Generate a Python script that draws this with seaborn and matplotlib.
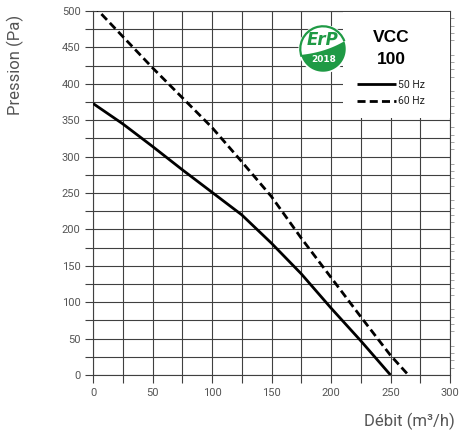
import numpy as np
import pandas as pd
import matplotlib
matplotlib.use("Agg")
import matplotlib.pyplot as plt
import seaborn as sns
from matplotlib.patches import Circle, Polygon, Arc, Rectangle

# ---- data ----
flow_50 = [0, 25, 50, 75, 100, 125, 150, 175, 200, 225, 250]
pres_50 = [373, 345, 314, 282, 251, 220, 181, 139, 92, 47, 0]
flow_60 = [0, 25, 50, 75, 100, 125, 150, 175, 200, 225, 250, 265]
pres_60 = [508, 465, 422, 381, 340, 293, 245, 188, 134, 80, 27, 0]
series_labels = ["50 Hz", "60 Hz"]
x_ticks = [0, 50, 100, 150, 200, 250, 300]
y_ticks = [0, 50, 100, 150, 200, 250, 300, 350, 400, 450, 500]
title_lines = ["VCC", "100"]

df50 = pd.DataFrame({"flow": flow_50, "pres": pres_50})
df60 = pd.DataFrame({"flow": flow_60, "pres": pres_60})

sns.set_theme(style="white")
plt.rcParams["font.family"] = ["Roboto", "DejaVu Sans"]

W, H = 461, 434
fig = plt.figure(figsize=(W / 100, H / 100), dpi=100)
ax = fig.add_axes([93 / W, 1 - 375 / H, 357 / W, 364 / H])

grid_c = "#404040"
tick_c = "#555555"

sns.lineplot(data=df50, x="flow", y="pres", ax=ax, color="black", lw=2.0,
             label=series_labels[0], zorder=5)
sns.lineplot(data=df60, x="flow", y="pres", ax=ax, color="black", lw=2.0,
             label=series_labels[1], zorder=5)
ax.lines[1].set_dashes((2.9, 1.5))
ax.lines[0].set_solid_capstyle("butt")

ax.set_xlim(0, 300)
ax.set_ylim(0, 500)
ax.set_xticks(np.arange(0, 301, 25))
ax.set_yticks(np.arange(0, 501, 25))
ax.set_xticklabels([str(v) if v in x_ticks else "" for v in range(0, 301, 25)])
ax.set_yticklabels([str(v) if v in y_ticks else "" for v in range(0, 501, 25)])
ax.grid(True, color=grid_c, lw=0.8)
for s in ax.spines.values():
    s.set_color(grid_c)
    s.set_linewidth(0.8)
ax.tick_params(axis="both", which="major", direction="out", length=6, width=0.8,
               color=grid_c, labelsize=8, labelcolor=tick_c, pad=3,
               left=True, bottom=True)
ax.set_yticks(np.arange(0, 501, 10), minor=True)
ax.tick_params(axis="y", which="minor", right=True, left=False, direction="out",
               length=3, width=0.6, color="#999999")
ax.tick_params(axis="x", which="minor", top=False, bottom=False)

ax.set_xlabel("")
ax.set_ylabel("")
fig.text(409 / W, 1 - 421 / H, "Débit (m³/h)", ha="center", va="center",
         fontsize=12, color="#555555")
fig.text(15 / W, 1 - 65 / H, "Pression (Pa)", ha="center", va="center",
         rotation=90, fontsize=12, color="#555555")

# white info box in top-right
ax.add_patch(Rectangle(((343 - 93) / 357, (375 - 118) / 364),
                       (449.5 - 343) / 357, (118 - 11.5) / 364,
                       transform=ax.transAxes, facecolor="white",
                       edgecolor="none", zorder=6))

# title text
ax.text((391 - 93) / 357, (375 - 37) / 364, title_lines[0], transform=ax.transAxes,
        ha="center", va="center", fontsize=12.5, fontweight="bold", color="black",
        zorder=7, family=["Liberation Sans", "DejaVu Sans"])
ax.text((391 - 93) / 357, (375 - 60) / 364, title_lines[1], transform=ax.transAxes,
        ha="center", va="center", fontsize=12.5, fontweight="bold", color="black",
        zorder=7, family=["Liberation Sans", "DejaVu Sans"])

# legend
leg = ax.legend(loc="upper left", bbox_to_anchor=((357 - 93) / 357, (375 - 80) / 364),
                frameon=False, fontsize=7.5, handlelength=3.7, handletextpad=0.2,
                labelspacing=0.6, borderpad=0, borderaxespad=0)
leg.set_zorder(8)
for t in leg.get_texts():
    t.set_color("#222222")

# ErP logo
green = "#1f9a45"
lax = fig.add_axes([298 / W, 1 - 74 / H, 50 / W, 50 / H])
lax.set_xlim(-1.1, 1.1)
lax.set_ylim(-1.1, 1.1)
lax.set_aspect("equal")
lax.axis("off")
lax.add_patch(Circle((0, 0), 1.08, facecolor="white", edgecolor="none"))
lax.add_patch(Arc((0, 0), 2.0, 2.0, theta1=20, theta2=200, color=green, lw=1.6))
th = np.radians(np.linspace(195, 380, 60))
arc_pts = np.column_stack([np.cos(th), np.sin(th)])
t = np.linspace(0, 1, 40)
p0 = arc_pts[-1]
p2 = arc_pts[0]
p1 = np.array([0.1, -0.15])
curve = ((1 - t) ** 2)[:, None] * p0 + (2 * (1 - t) * t)[:, None] * p1 + (t ** 2)[:, None] * p2
lax.add_patch(Polygon(np.vstack([arc_pts, curve]), closed=True, facecolor=green,
                      edgecolor="none"))
lax.text(0.0, 0.38, "ErP", ha="center", va="center", fontsize=12, color=green,
         fontweight="bold", fontstyle="italic", family=["DejaVu Sans"])
lax.text(0.05, -0.48, "2018", ha="center", va="center", fontsize=6.5, color="white",
         fontweight="bold", family=["DejaVu Sans"])

fig.savefig("out.png", dpi=100)
